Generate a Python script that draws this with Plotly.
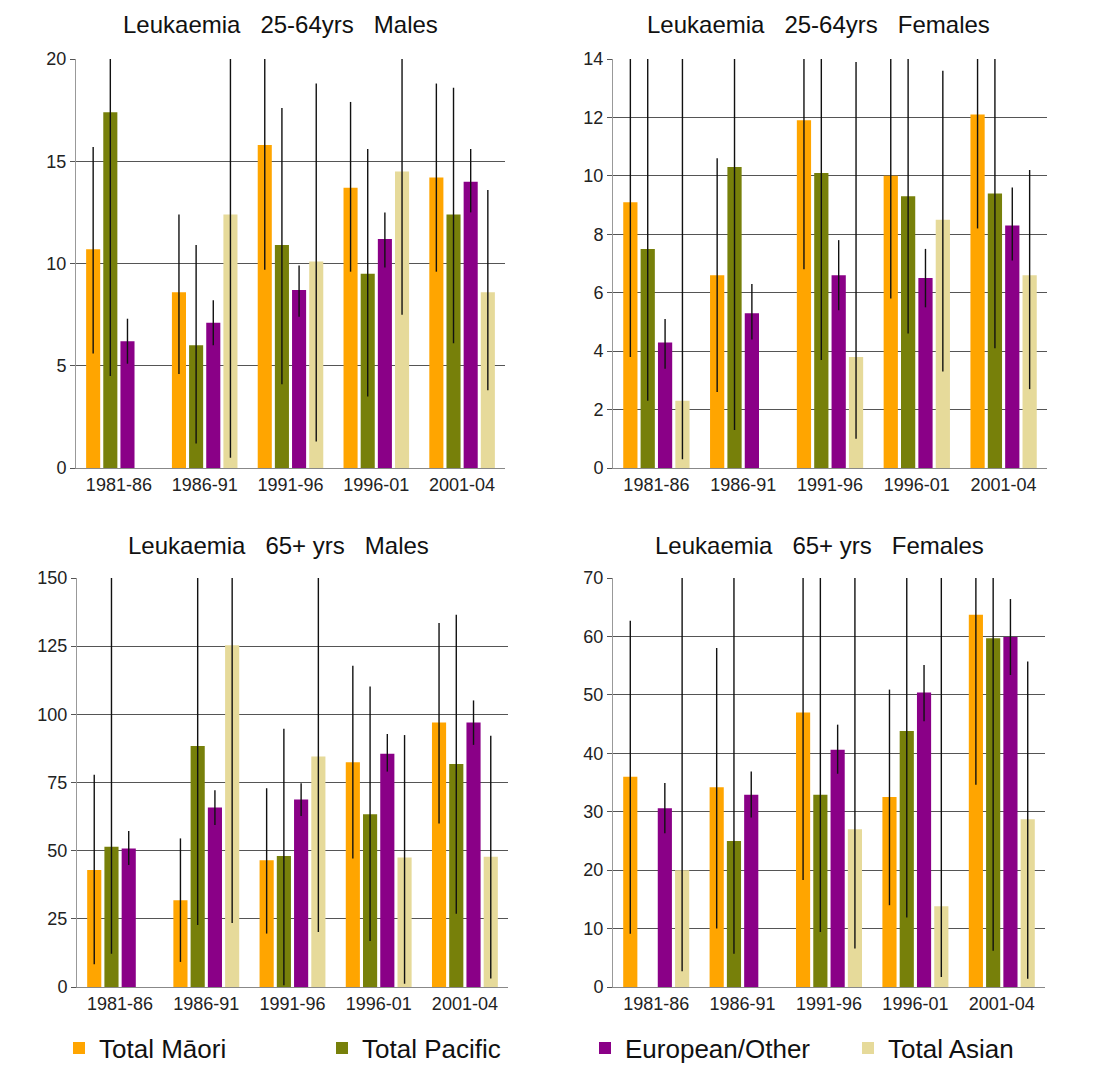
import plotly.graph_objects as go

periods = ["1981-86", "1986-91", "1991-96", "1996-01", "2001-04"]
series_names = ["Total Māori", "Total Pacific", "European/Other", "Total Asian"]
colors = ["#FFA500", "#77800A", "#8A0087", "#E6DA9A"]

# Panel 1: Leukaemia 25-64yrs Males
m2564_maori = [10.7, 8.6, 15.8, 13.7, 14.2]
m2564_maori_hi = [15.7, 12.4, 24.0, 17.9, 18.8]
m2564_maori_lo = [5.6, 4.6, 9.7, 9.6, 9.6]
m2564_pacific = [17.4, 6.0, 10.9, 9.5, 12.4]
m2564_pacific_hi = [30.0, 10.9, 17.6, 15.6, 18.6]
m2564_pacific_lo = [4.5, 1.2, 4.1, 3.5, 6.1]
m2564_euro = [6.2, 7.1, 8.7, 11.2, 14.0]
m2564_euro_hi = [7.3, 8.2, 9.9, 12.5, 15.6]
m2564_euro_lo = [5.1, 6.0, 7.4, 9.8, 12.5]
m2564_asian = [None, 12.4, 10.1, 14.5, 8.6]
m2564_asian_hi = [None, 30.0, 18.8, 24.0, 13.6]
m2564_asian_lo = [None, 0.5, 1.3, 7.5, 3.8]

# Panel 2: Leukaemia 25-64yrs Females
f2564_maori = [9.1, 6.6, 11.9, 10.0, 12.1]
f2564_maori_hi = [16.0, 10.6, 17.0, 15.0, 16.0]
f2564_maori_lo = [3.8, 2.6, 6.8, 5.8, 8.2]
f2564_pacific = [7.5, 10.3, 10.1, 9.3, 9.4]
f2564_pacific_hi = [16.0, 20.0, 17.0, 15.0, 15.5]
f2564_pacific_lo = [2.3, 1.3, 3.7, 4.6, 4.1]
f2564_euro = [4.3, 5.3, 6.6, 6.5, 8.3]
f2564_euro_hi = [5.1, 6.3, 7.8, 7.5, 9.6]
f2564_euro_lo = [3.4, 4.4, 5.4, 5.5, 7.1]
f2564_asian = [2.3, None, 3.8, 8.5, 6.6]
f2564_asian_hi = [18.0, None, 13.9, 13.6, 10.2]
f2564_asian_lo = [0.3, None, 1.0, 3.3, 2.7]

# Panel 3: Leukaemia 65+ yrs Males
m65_maori = [42.9, 31.8, 46.5, 82.4, 97.0]
m65_maori_hi = [77.8, 54.5, 72.9, 117.8, 133.5]
m65_maori_lo = [8.3, 9.2, 19.6, 47.1, 60.0]
m65_pacific = [51.4, 88.4, 48.0, 63.4, 81.8]
m65_pacific_hi = [180.0, 190.0, 94.7, 110.2, 136.5]
m65_pacific_lo = [12.2, 22.7, 0.6, 16.9, 26.9]
m65_euro = [50.8, 65.8, 68.8, 85.5, 97.0]
m65_euro_hi = [57.2, 72.2, 74.7, 92.8, 105.1]
m65_euro_lo = [44.7, 59.4, 62.7, 79.0, 88.8]
m65_asian = [None, 125.3, 84.5, 47.5, 47.8]
m65_asian_hi = [None, 250.0, 190.0, 92.4, 92.1]
m65_asian_lo = [None, 23.5, 20.2, 1.2, 3.1]

# Panel 4: Leukaemia 65+ yrs Females
f65_maori = [36.0, 34.2, 47.0, 32.5, 63.7]
f65_maori_hi = [62.7, 58.0, 80.0, 50.9, 95.0]
f65_maori_lo = [9.1, 10.0, 18.3, 14.0, 34.6]
f65_pacific = [None, 25.0, 32.9, 43.8, 59.7]
f65_pacific_hi = [None, 90.0, 80.0, 85.0, 110.0]
f65_pacific_lo = [None, 5.7, 9.4, 11.9, 6.2]
f65_euro = [30.6, 32.9, 40.6, 50.4, 59.9]
f65_euro_hi = [34.9, 36.9, 44.9, 55.1, 66.4]
f65_euro_lo = [26.3, 29.0, 36.5, 45.5, 53.4]
f65_asian = [20.0, None, 27.0, 13.8, 28.7]
f65_asian_hi = [90.0, None, 90.0, 80.0, 55.7]
f65_asian_lo = [2.7, None, 6.6, 1.7, 1.4]

# page has an 8px body margin: figure is 8px smaller, all positions shifted by 8px
OFF = 8
W, H = 1093 - OFF, 1065 - OFF


def px_x(x):
    return (x - OFF) / W


def px_y(y):
    return 1 - (y - OFF) / H


panels = [
    dict(title="Leukaemia   25-64yrs   Males", ymax=20, dtick=5,
         data=[(m2564_maori, m2564_maori_hi, m2564_maori_lo),
               (m2564_pacific, m2564_pacific_hi, m2564_pacific_lo),
               (m2564_euro, m2564_euro_hi, m2564_euro_lo),
               (m2564_asian, m2564_asian_hi, m2564_asian_lo)],
         box=(76, 505, 59, 468), tpos=(280, 25)),
    dict(title="Leukaemia   25-64yrs   Females", ymax=14, dtick=2,
         data=[(f2564_maori, f2564_maori_hi, f2564_maori_lo),
               (f2564_pacific, f2564_pacific_hi, f2564_pacific_lo),
               (f2564_euro, f2564_euro_hi, f2564_euro_lo),
               (f2564_asian, f2564_asian_hi, f2564_asian_lo)],
         box=(613, 1047, 59, 468), tpos=(818, 25)),
    dict(title="Leukaemia   65+ yrs   Males", ymax=150, dtick=25,
         data=[(m65_maori, m65_maori_hi, m65_maori_lo),
               (m65_pacific, m65_pacific_hi, m65_pacific_lo),
               (m65_euro, m65_euro_hi, m65_euro_lo),
               (m65_asian, m65_asian_hi, m65_asian_lo)],
         box=(77, 508, 578, 987), tpos=(278, 545)),
    dict(title="Leukaemia   65+ yrs   Females", ymax=70, dtick=10,
         data=[(f65_maori, f65_maori_hi, f65_maori_lo),
               (f65_pacific, f65_pacific_hi, f65_pacific_lo),
               (f65_euro, f65_euro_hi, f65_euro_lo),
               (f65_asian, f65_asian_hi, f65_asian_lo)],
         box=(613, 1045, 578, 987), tpos=(819, 545)),
]

fig = go.Figure()
annotations = []
FONT = "Liberation Sans, Arial, sans-serif"

for i, p in enumerate(panels):
    n = "" if i == 0 else str(i + 1)
    xa, ya = "x" + n, "y" + n
    x0, x1, y0, y1 = p["box"]
    for s, (vals, hi, lo) in enumerate(p["data"]):
        plus = [None if v is None else h - v for v, h in zip(vals, hi)]
        minus = [None if v is None else v - l for v, l in zip(vals, lo)]
        fig.add_trace(go.Bar(
            x=periods, y=vals, name=series_names[s], marker_color=colors[s],
            marker_line_width=0, xaxis=xa, yaxis=ya, offsetgroup=str(s),
            legendgroup=series_names[s], showlegend=(i == 0),
            error_y=dict(type="data", array=plus, arrayminus=minus, symmetric=False,
                         color="#111111", thickness=1.4, width=0),
        ))
    fig.layout["xaxis" + n] = dict(domain=[px_x(x0), px_x(x1)], anchor=ya, showgrid=False,
                                   type="category", showline=True, linecolor="#888888",
                                   linewidth=1, ticks="", tickfont=dict(size=18, color="#222"),
                                   fixedrange=True)
    fig.layout["yaxis" + n] = dict(domain=[px_y(y1), px_y(y0)], anchor=xa, range=[0, p["ymax"]],
                                   dtick=p["dtick"], showgrid=True, gridcolor="#555555",
                                   gridwidth=1, showline=True, linecolor="#999999",
                                   ticks="outside", ticklen=5, tickcolor="#555555",
                                   tickfont=dict(size=18, color="#222"), zeroline=False,
                                   fixedrange=True)
    annotations.append(dict(text=p["title"], x=px_x(p["tpos"][0]), y=px_y(p["tpos"][1]),
                            xref="paper", yref="paper", showarrow=False,
                            xanchor="center", yanchor="middle",
                            font=dict(size=24, color="#111", family=FONT)))

fig.update_layout(
    width=W, height=H,
    margin=dict(l=0, r=0, t=0, b=0, autoexpand=False),
    paper_bgcolor="white", plot_bgcolor="white",
    barmode="group", bargap=0.2, bargroupgap=0.18,
    font=dict(family=FONT, color="#222"),
    annotations=annotations,
    legend=dict(orientation="h", x=51 / W, y=px_y(1048), xanchor="left", yanchor="middle",
                entrywidth=218, entrywidthmode="pixels",
                font=dict(size=26, color="#111", family=FONT), itemsizing="constant"),
)

fig.write_html("out.html")
